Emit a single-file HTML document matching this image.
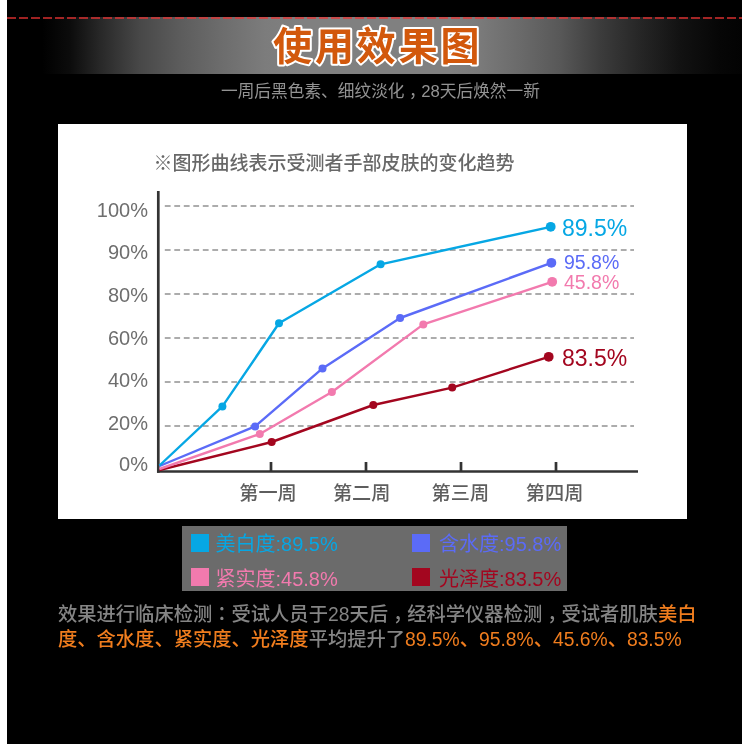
<!DOCTYPE html>
<html lang="zh-CN">
<head>
<meta charset="utf-8">
<title>使用效果图</title>
<style>
html,body{margin:0;padding:0;}
body{width:750px;height:744px;background:#fff;position:relative;overflow:hidden;
  font-family:"Liberation Sans","Noto Sans CJK SC",sans-serif;}
#main{position:absolute;left:7px;top:0;width:735px;height:744px;background:#000;}
#dash{position:absolute;left:7px;top:17px;width:735px;height:2px;
  background:repeating-linear-gradient(to right,rgba(235,50,50,.68) 0 9.5px,transparent 9.5px 12px);}
#band{position:absolute;left:7px;top:17px;width:735px;height:57px;
  background:linear-gradient(to right,#000 0%,#000 4.8%,#0c0c0c 8.6%,#282828 12.7%,#484848 18.1%,#5c5c5c 23.5%,#6c6c6c 29%,#7c7c7c 35.1%,#808080 39.9%,#808080 60%,#7a7a7a 64.4%,#6a6a6a 69.8%,#585858 75.2%,#3c3c3c 80.7%,#262626 86.1%,#121212 91.6%,#060606 97%,#030303 100%);}
#ttl{position:absolute;left:0;top:0;}
#sub{position:absolute;left:221px;top:79.6px;white-space:nowrap;
  font-family:"Liberation Sans","Noto Sans CJK SC",sans-serif;font-size:16.7px;line-height:24px;color:#939393;}
.tc{font-family:"Noto Sans CJK TC",sans-serif;}
.cm{display:inline-block;transform:translateX(0.26em);}
#box{position:absolute;left:58px;top:124px;width:629px;height:395px;background:#fff;}
#chart{position:absolute;left:0;top:0;}
#legend{position:absolute;left:182px;top:526px;width:385px;height:65px;background:#6b6b6b;}
.lg{position:absolute;font-size:20px;line-height:24px;font-family:"Liberation Sans","Noto Sans CJK SC",sans-serif;white-space:nowrap;}
.sq{position:absolute;width:18px;height:18.2px;}
#desc{position:absolute;left:58px;top:601px;width:660px;font-size:19.3px;font-weight:500;line-height:25px;color:#858585;
  font-family:"Liberation Sans","Noto Sans CJK SC",sans-serif;}
#desc b{font-weight:inherit;color:#f07d1e;}
</style>
</head>
<body>
<div id="main"></div>
<div id="band"></div>
<div id="dash"></div>
<svg id="ttl" width="750" height="80" viewBox="0 0 750 80"><text x="273" y="59.6" font-family="Noto Sans CJK SC, sans-serif" font-weight="700" font-size="39" letter-spacing="2.9" fill="#d2580c" stroke="#fff" stroke-width="4" stroke-linejoin="round" paint-order="stroke fill">使用效果图</text></svg>
<div id="sub">一周后黑色素、细纹淡化<span class="cm">，</span>28天后焕然一新</div>
<div id="box"></div>
<svg id="chart" width="750" height="744" viewBox="0 0 750 744">
  <text x="153.5" y="169.6" font-family="Liberation Sans, Noto Sans CJK SC, sans-serif" font-size="19" font-weight="500" fill="#686868">※图形曲线表示受测者手部皮肤的变化趋势</text>
  <g stroke="#acacac" stroke-width="2" stroke-dasharray="5.8 3.7" fill="none">
    <line x1="164.8" y1="206" x2="634" y2="206"/>
    <line x1="164.8" y1="250" x2="634" y2="250"/>
    <line x1="164.8" y1="294" x2="634" y2="294"/>
    <line x1="164.8" y1="338" x2="634" y2="338"/>
    <line x1="164.8" y1="382" x2="634" y2="382"/>
    <line x1="164.8" y1="426" x2="634" y2="426"/>
  </g>
  <g font-family="Liberation Sans, sans-serif" font-size="20" fill="#6e6e6e" text-anchor="end">
    <text x="148" y="216.7">100%</text>
    <text x="148" y="259.2">90%</text>
    <text x="148" y="302.4">80%</text>
    <text x="148" y="344.8">60%</text>
    <text x="148" y="386.8">40%</text>
    <text x="148" y="429.6">20%</text>
    <text x="148" y="471.4">0%</text>
  </g>
  <g stroke="#333" stroke-width="2.7" fill="none">
    <line x1="158.3" y1="191" x2="158.3" y2="472.8"/>
    <line x1="157" y1="471.5" x2="638" y2="471.5"/>
    <line x1="271" y1="462" x2="271" y2="471"/>
    <line x1="366" y1="462" x2="366" y2="471"/>
    <line x1="461" y1="462" x2="461" y2="471"/>
    <line x1="556" y1="462" x2="556" y2="471"/>
  </g>
  <g font-family="Liberation Sans, Noto Sans CJK SC, sans-serif" font-size="19.2" font-weight="500" fill="#5e5e5e" text-anchor="middle">
    <text x="268" y="499.6">第一周</text>
    <text x="361.7" y="499.6">第二周</text>
    <text x="460.4" y="499.6">第三周</text>
    <text x="554.6" y="499.6">第四周</text>
  </g>
  <g fill="none" stroke-width="2.4" stroke-linejoin="round">
    <polyline stroke="#a3061f" points="159.5,470 271.7,442 373.3,405 452.2,387.6 548.7,356.8"/>
    <polyline stroke="#f27aae" points="159.5,469 259.8,434 331.9,392 423.3,324.4 552.2,281.8"/>
    <polyline stroke="#5b6bf7" points="159.5,466 255.1,426.4 322.5,368.4 400.1,318 551.4,262.8"/>
    <polyline stroke="#06a7e4" points="159.5,465.5 222.4,406.4 279,323.3 380.6,264.3 550.7,226.8"/>
  </g>
  <g fill="#a3061f"><circle cx="271.7" cy="442" r="4.0"/><circle cx="373.3" cy="405" r="4.0"/><circle cx="452.2" cy="387.6" r="4.0"/><circle cx="548.7" cy="356.8" r="4.9"/></g>
  <g fill="#f27aae"><circle cx="259.8" cy="434" r="4.0"/><circle cx="331.9" cy="392" r="4.0"/><circle cx="423.3" cy="324.4" r="4.0"/><circle cx="552.2" cy="281.8" r="4.9"/></g>
  <g fill="#5b6bf7"><circle cx="255.1" cy="426.4" r="4.0"/><circle cx="322.5" cy="368.4" r="4.0"/><circle cx="400.1" cy="318" r="4.0"/><circle cx="551.4" cy="262.8" r="4.9"/></g>
  <g fill="#06a7e4"><circle cx="222.4" cy="406.4" r="4.0"/><circle cx="279" cy="323.3" r="4.0"/><circle cx="380.6" cy="264.3" r="4.0"/><circle cx="550.7" cy="226.8" r="4.9"/></g>
  <g font-family="Liberation Sans, sans-serif">
    <text x="562" y="235.5" font-size="23" fill="#06a7e4">89.5%</text>
    <text x="564" y="269.2" font-size="19.5" fill="#5b6bf7">95.8%</text>
    <text x="564" y="288.8" font-size="19.5" fill="#f27aae">45.8%</text>
    <text x="562" y="366.4" font-size="23" fill="#a3061f">83.5%</text>
  </g>
</svg>
<div id="legend">
  <div class="sq" style="left:9px;top:7.6px;background:#06a7e4"></div>
  <div class="lg" style="left:33.5px;top:5.9px;color:#06a7e4">美白度:89.5%</div>
  <div class="sq" style="left:229.6px;top:7.6px;background:#5b6bf7"></div>
  <div class="lg" style="left:257px;top:5.9px;color:#5b6bf7">含水度:95.8%</div>
  <div class="sq" style="left:9px;top:42px;background:#f27aae"></div>
  <div class="lg" style="left:33.5px;top:40.9px;color:#f27aae">紧实度:45.8%</div>
  <div class="sq" style="left:229.6px;top:42px;background:#a3061f"></div>
  <div class="lg" style="left:257px;top:40.9px;color:#a3061f">光泽度:83.5%</div>
</div>
<div id="desc">效果进行临床检测<span class="tc" lang="zh-TW">：</span>受试人员于28天后<span class="cm">，</span>经科学仪器检测<span class="cm">，</span>受试者肌肤<b>美白度、含水度、紧实度、光泽度</b>平均提升了<b>89.5%、95.8%、45.6%、83.5%</b></div>
</body>
</html>
